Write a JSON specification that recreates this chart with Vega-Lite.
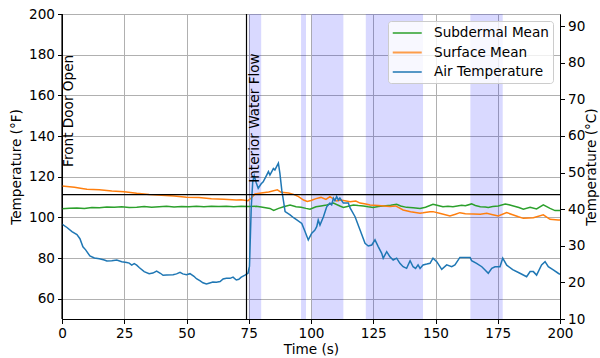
{
  "$schema": "https://vega.github.io/schema/vega-lite/v6.json",
  "width": 498,
  "height": 305,
  "autosize": {"type": "none"},
  "padding": {"left": 62, "top": 14, "right": 40, "bottom": 39},
  "config": {
    "font": "DejaVu Sans",
    "view": {"stroke": "black", "strokeWidth": 1},
    "axis": {
      "domainColor": "black", "domainWidth": 1, "tickColor": "black", "tickWidth": 1, "tickSize": 4.5,
      "labelColor": "black", "titleColor": "black", "labelFont": "DejaVu Sans", "titleFont": "DejaVu Sans",
      "labelFontSize": 13.6, "titleFontSize": 13.6, "titleFontWeight": "normal",
      "gridColor": "#b0b0b0", "gridWidth": 1, "labelPadding": 3
    }
  },
  "datasets": {
    "bands": [
      {"a": 75, "b": 80}, {"a": 96, "b": 98}, {"a": 100.3, "b": 113}, {"a": 122, "b": 145}, {"a": 164, "b": 177}
    ],
    "vlines": [{"t": 0}, {"t": 74.1}],
    "labels": [
      {"t": 0.2, "F": 124.8, "label": "Front Door Open"},
      {"t": 74.5, "F": 117, "label": "Interior Water Flow"}
    ],
    "hline": [{"C": 44}],
    "series": [
      {"s": "Subdermal Mean", "t": 0, "F": 104.2}, {"s": "Subdermal Mean", "t": 3, "F": 104.5}, {"s": "Subdermal Mean", "t": 6, "F": 104.6}, {"s": "Subdermal Mean", "t": 9, "F": 104.3}, {"s": "Subdermal Mean", "t": 12, "F": 104.8}, {"s": "Subdermal Mean", "t": 15, "F": 104.7}, {"s": "Subdermal Mean", "t": 18, "F": 105.1}, {"s": "Subdermal Mean", "t": 21, "F": 104.9}, {"s": "Subdermal Mean", "t": 24, "F": 105.2}, {"s": "Subdermal Mean", "t": 27, "F": 104.8}, {"s": "Subdermal Mean", "t": 30, "F": 105.0}, {"s": "Subdermal Mean", "t": 33, "F": 105.3}, {"s": "Subdermal Mean", "t": 36, "F": 105.0}, {"s": "Subdermal Mean", "t": 39, "F": 105.2}, {"s": "Subdermal Mean", "t": 42, "F": 105.4}, {"s": "Subdermal Mean", "t": 45, "F": 105.1}, {"s": "Subdermal Mean", "t": 48, "F": 105.3}, {"s": "Subdermal Mean", "t": 51, "F": 105.2}, {"s": "Subdermal Mean", "t": 54, "F": 105.5}, {"s": "Subdermal Mean", "t": 57, "F": 105.2}, {"s": "Subdermal Mean", "t": 60, "F": 105.4}, {"s": "Subdermal Mean", "t": 63, "F": 105.3}, {"s": "Subdermal Mean", "t": 66, "F": 105.5}, {"s": "Subdermal Mean", "t": 69, "F": 105.2}, {"s": "Subdermal Mean", "t": 72, "F": 105.4}, {"s": "Subdermal Mean", "t": 75, "F": 105.3}, {"s": "Subdermal Mean", "t": 78, "F": 105.4}, {"s": "Subdermal Mean", "t": 80, "F": 105.1}, {"s": "Subdermal Mean", "t": 83.5, "F": 104.4}, {"s": "Subdermal Mean", "t": 85, "F": 103.4}, {"s": "Subdermal Mean", "t": 87, "F": 104.4}, {"s": "Subdermal Mean", "t": 89, "F": 105.2}, {"s": "Subdermal Mean", "t": 91.6, "F": 106.1}, {"s": "Subdermal Mean", "t": 94, "F": 105.2}, {"s": "Subdermal Mean", "t": 96, "F": 105.0}, {"s": "Subdermal Mean", "t": 98, "F": 104.4}, {"s": "Subdermal Mean", "t": 99.6, "F": 104.0}, {"s": "Subdermal Mean", "t": 102, "F": 105.2}, {"s": "Subdermal Mean", "t": 104, "F": 105.6}, {"s": "Subdermal Mean", "t": 106.3, "F": 106.1}, {"s": "Subdermal Mean", "t": 109, "F": 107.0}, {"s": "Subdermal Mean", "t": 111.6, "F": 105.6}, {"s": "Subdermal Mean", "t": 113, "F": 104.9}, {"s": "Subdermal Mean", "t": 115, "F": 105.5}, {"s": "Subdermal Mean", "t": 117, "F": 106.1}, {"s": "Subdermal Mean", "t": 119, "F": 105.8}, {"s": "Subdermal Mean", "t": 121, "F": 105.6}, {"s": "Subdermal Mean", "t": 123, "F": 105.2}, {"s": "Subdermal Mean", "t": 125, "F": 104.9}, {"s": "Subdermal Mean", "t": 127, "F": 105.3}, {"s": "Subdermal Mean", "t": 129, "F": 105.6}, {"s": "Subdermal Mean", "t": 132, "F": 106.0}, {"s": "Subdermal Mean", "t": 134.4, "F": 106.4}, {"s": "Subdermal Mean", "t": 136, "F": 105.6}, {"s": "Subdermal Mean", "t": 138.4, "F": 104.9}, {"s": "Subdermal Mean", "t": 141, "F": 104.7}, {"s": "Subdermal Mean", "t": 143.8, "F": 104.4}, {"s": "Subdermal Mean", "t": 146, "F": 105.0}, {"s": "Subdermal Mean", "t": 149, "F": 106.4}, {"s": "Subdermal Mean", "t": 151, "F": 105.8}, {"s": "Subdermal Mean", "t": 153, "F": 105.2}, {"s": "Subdermal Mean", "t": 155, "F": 105.4}, {"s": "Subdermal Mean", "t": 157, "F": 105.2}, {"s": "Subdermal Mean", "t": 160.5, "F": 105.9}, {"s": "Subdermal Mean", "t": 162, "F": 105.7}, {"s": "Subdermal Mean", "t": 164.5, "F": 106.6}, {"s": "Subdermal Mean", "t": 166, "F": 105.8}, {"s": "Subdermal Mean", "t": 168, "F": 105.2}, {"s": "Subdermal Mean", "t": 170, "F": 105.1}, {"s": "Subdermal Mean", "t": 171.2, "F": 104.9}, {"s": "Subdermal Mean", "t": 173, "F": 105.3}, {"s": "Subdermal Mean", "t": 175.2, "F": 105.6}, {"s": "Subdermal Mean", "t": 178, "F": 106.6}, {"s": "Subdermal Mean", "t": 179.5, "F": 106.2}, {"s": "Subdermal Mean", "t": 181.3, "F": 105.6}, {"s": "Subdermal Mean", "t": 183.5, "F": 104.8}, {"s": "Subdermal Mean", "t": 185.3, "F": 104.0}, {"s": "Subdermal Mean", "t": 188, "F": 104.9}, {"s": "Subdermal Mean", "t": 190.6, "F": 104.1}, {"s": "Subdermal Mean", "t": 193.3, "F": 106.1}, {"s": "Subdermal Mean", "t": 196, "F": 104.4}, {"s": "Subdermal Mean", "t": 198, "F": 103.3}, {"s": "Subdermal Mean", "t": 200, "F": 103.3},

      {"s": "Surface Mean", "t": 0, "F": 115.4}, {"s": "Surface Mean", "t": 2, "F": 115.2}, {"s": "Surface Mean", "t": 5, "F": 114.8}, {"s": "Surface Mean", "t": 8, "F": 114.2}, {"s": "Surface Mean", "t": 10, "F": 113.8}, {"s": "Surface Mean", "t": 15, "F": 113.6}, {"s": "Surface Mean", "t": 20, "F": 113.0}, {"s": "Surface Mean", "t": 25, "F": 112.6}, {"s": "Surface Mean", "t": 30, "F": 111.8}, {"s": "Surface Mean", "t": 35, "F": 111.2}, {"s": "Surface Mean", "t": 40, "F": 110.9}, {"s": "Surface Mean", "t": 45, "F": 110.5}, {"s": "Surface Mean", "t": 50, "F": 109.9}, {"s": "Surface Mean", "t": 55, "F": 109.7}, {"s": "Surface Mean", "t": 60, "F": 109.2}, {"s": "Surface Mean", "t": 65, "F": 108.9}, {"s": "Surface Mean", "t": 70, "F": 108.5}, {"s": "Surface Mean", "t": 72, "F": 108.7}, {"s": "Surface Mean", "t": 74.7, "F": 108.2}, {"s": "Surface Mean", "t": 76, "F": 109.5}, {"s": "Surface Mean", "t": 77.5, "F": 111.5}, {"s": "Surface Mean", "t": 80, "F": 112.0}, {"s": "Surface Mean", "t": 83, "F": 112.5}, {"s": "Surface Mean", "t": 86.5, "F": 113.5}, {"s": "Surface Mean", "t": 88, "F": 112.3}, {"s": "Surface Mean", "t": 91, "F": 112.0}, {"s": "Surface Mean", "t": 93, "F": 111.3}, {"s": "Surface Mean", "t": 95, "F": 110.2}, {"s": "Surface Mean", "t": 97, "F": 108.5}, {"s": "Surface Mean", "t": 98.5, "F": 107.8}, {"s": "Surface Mean", "t": 100, "F": 108.3}, {"s": "Surface Mean", "t": 102, "F": 109.2}, {"s": "Surface Mean", "t": 104, "F": 109.8}, {"s": "Surface Mean", "t": 106, "F": 108.8}, {"s": "Surface Mean", "t": 107.6, "F": 110.2}, {"s": "Surface Mean", "t": 110.3, "F": 108.0}, {"s": "Surface Mean", "t": 112, "F": 108.5}, {"s": "Surface Mean", "t": 115.7, "F": 107.7}, {"s": "Surface Mean", "t": 118, "F": 108.0}, {"s": "Surface Mean", "t": 119.7, "F": 107.0}, {"s": "Surface Mean", "t": 122, "F": 106.6}, {"s": "Surface Mean", "t": 123.7, "F": 106.1}, {"s": "Surface Mean", "t": 127, "F": 105.8}, {"s": "Surface Mean", "t": 131.7, "F": 105.3}, {"s": "Surface Mean", "t": 134, "F": 105.6}, {"s": "Surface Mean", "t": 137, "F": 103.6}, {"s": "Surface Mean", "t": 140, "F": 102.8}, {"s": "Surface Mean", "t": 143.8, "F": 102.0}, {"s": "Surface Mean", "t": 145, "F": 102.2}, {"s": "Surface Mean", "t": 147.8, "F": 102.8}, {"s": "Surface Mean", "t": 149, "F": 102.8}, {"s": "Surface Mean", "t": 152, "F": 101.9}, {"s": "Surface Mean", "t": 155.8, "F": 100.7}, {"s": "Surface Mean", "t": 158, "F": 101.5}, {"s": "Surface Mean", "t": 159.8, "F": 102.3}, {"s": "Surface Mean", "t": 162, "F": 101.8}, {"s": "Surface Mean", "t": 165.2, "F": 101.7}, {"s": "Surface Mean", "t": 168, "F": 101.5}, {"s": "Surface Mean", "t": 170.6, "F": 102.0}, {"s": "Surface Mean", "t": 173, "F": 101.3}, {"s": "Surface Mean", "t": 175.2, "F": 100.7}, {"s": "Surface Mean", "t": 178.6, "F": 102.3}, {"s": "Surface Mean", "t": 181, "F": 101.3}, {"s": "Surface Mean", "t": 183.3, "F": 100.3}, {"s": "Surface Mean", "t": 185.3, "F": 99.5}, {"s": "Surface Mean", "t": 189.3, "F": 99.8}, {"s": "Surface Mean", "t": 193.3, "F": 101.2}, {"s": "Surface Mean", "t": 196, "F": 99.0}, {"s": "Surface Mean", "t": 199.3, "F": 98.7}, {"s": "Surface Mean", "t": 200, "F": 98.7},

      {"s": "Air Temperature", "t": 0, "F": 96.7}, {"s": "Air Temperature", "t": 2, "F": 95.0}, {"s": "Air Temperature", "t": 4, "F": 93.0}, {"s": "Air Temperature", "t": 6, "F": 91.5}, {"s": "Air Temperature", "t": 7.2, "F": 89.5}, {"s": "Air Temperature", "t": 8.4, "F": 85.5}, {"s": "Air Temperature", "t": 9.5, "F": 84.0}, {"s": "Air Temperature", "t": 11.2, "F": 81.0}, {"s": "Air Temperature", "t": 13, "F": 80.0}, {"s": "Air Temperature", "t": 15, "F": 79.6}, {"s": "Air Temperature", "t": 17, "F": 79.0}, {"s": "Air Temperature", "t": 18, "F": 78.5}, {"s": "Air Temperature", "t": 20, "F": 78.6}, {"s": "Air Temperature", "t": 22, "F": 79.0}, {"s": "Air Temperature", "t": 24, "F": 78.2}, {"s": "Air Temperature", "t": 26, "F": 77.8}, {"s": "Air Temperature", "t": 27, "F": 77.5}, {"s": "Air Temperature", "t": 28, "F": 76.5}, {"s": "Air Temperature", "t": 29, "F": 77.2}, {"s": "Air Temperature", "t": 30, "F": 76.5}, {"s": "Air Temperature", "t": 31, "F": 75.3}, {"s": "Air Temperature", "t": 33, "F": 73.3}, {"s": "Air Temperature", "t": 35, "F": 72.3}, {"s": "Air Temperature", "t": 36.5, "F": 72.6}, {"s": "Air Temperature", "t": 38, "F": 73.6}, {"s": "Air Temperature", "t": 39.5, "F": 72.5}, {"s": "Air Temperature", "t": 40.6, "F": 71.5}, {"s": "Air Temperature", "t": 42, "F": 71.6}, {"s": "Air Temperature", "t": 44.6, "F": 71.8}, {"s": "Air Temperature", "t": 46, "F": 72.2}, {"s": "Air Temperature", "t": 47.4, "F": 73.0}, {"s": "Air Temperature", "t": 48.5, "F": 72.2}, {"s": "Air Temperature", "t": 50, "F": 71.8}, {"s": "Air Temperature", "t": 51.4, "F": 72.3}, {"s": "Air Temperature", "t": 53, "F": 71.0}, {"s": "Air Temperature", "t": 54, "F": 69.8}, {"s": "Air Temperature", "t": 55.5, "F": 68.8}, {"s": "Air Temperature", "t": 56.6, "F": 67.8}, {"s": "Air Temperature", "t": 58, "F": 67.2}, {"s": "Air Temperature", "t": 59, "F": 67.6}, {"s": "Air Temperature", "t": 60.6, "F": 68.2}, {"s": "Air Temperature", "t": 62, "F": 68.1}, {"s": "Air Temperature", "t": 63.5, "F": 68.4}, {"s": "Air Temperature", "t": 64.7, "F": 69.7}, {"s": "Air Temperature", "t": 66, "F": 70.0}, {"s": "Air Temperature", "t": 67.5, "F": 70.0}, {"s": "Air Temperature", "t": 68.7, "F": 70.6}, {"s": "Air Temperature", "t": 70, "F": 69.2}, {"s": "Air Temperature", "t": 71, "F": 69.5}, {"s": "Air Temperature", "t": 72, "F": 70.6}, {"s": "Air Temperature", "t": 73.5, "F": 71.6}, {"s": "Air Temperature", "t": 74.7, "F": 72.5}, {"s": "Air Temperature", "t": 75.3, "F": 76.0}, {"s": "Air Temperature", "t": 76, "F": 105.0}, {"s": "Air Temperature", "t": 76.6, "F": 117.5}, {"s": "Air Temperature", "t": 77.2, "F": 120.5}, {"s": "Air Temperature", "t": 78, "F": 117.0}, {"s": "Air Temperature", "t": 78.8, "F": 114.3}, {"s": "Air Temperature", "t": 80, "F": 116.5}, {"s": "Air Temperature", "t": 80.8, "F": 117.5}, {"s": "Air Temperature", "t": 82.2, "F": 120.8}, {"s": "Air Temperature", "t": 82.9, "F": 122.5}, {"s": "Air Temperature", "t": 83.5, "F": 120.8}, {"s": "Air Temperature", "t": 84.9, "F": 124.0}, {"s": "Air Temperature", "t": 85.5, "F": 123.3}, {"s": "Air Temperature", "t": 86.9, "F": 126.6}, {"s": "Air Temperature", "t": 87.5, "F": 121.7}, {"s": "Air Temperature", "t": 88.3, "F": 113.0}, {"s": "Air Temperature", "t": 88.9, "F": 108.5}, {"s": "Air Temperature", "t": 89.6, "F": 102.8}, {"s": "Air Temperature", "t": 91.6, "F": 101.2}, {"s": "Air Temperature", "t": 93, "F": 99.8}, {"s": "Air Temperature", "t": 94.3, "F": 98.7}, {"s": "Air Temperature", "t": 96.3, "F": 97.0}, {"s": "Air Temperature", "t": 97.6, "F": 93.0}, {"s": "Air Temperature", "t": 98.9, "F": 88.9}, {"s": "Air Temperature", "t": 100.3, "F": 92.2}, {"s": "Air Temperature", "t": 101.5, "F": 93.6}, {"s": "Air Temperature", "t": 102.3, "F": 95.4}, {"s": "Air Temperature", "t": 102.9, "F": 98.7}, {"s": "Air Temperature", "t": 103.6, "F": 96.2}, {"s": "Air Temperature", "t": 105, "F": 100.3}, {"s": "Air Temperature", "t": 106.3, "F": 105.2}, {"s": "Air Temperature", "t": 107.6, "F": 107.0}, {"s": "Air Temperature", "t": 108.3, "F": 106.2}, {"s": "Air Temperature", "t": 109, "F": 109.4}, {"s": "Air Temperature", "t": 109.6, "F": 108.2}, {"s": "Air Temperature", "t": 110.3, "F": 110.2}, {"s": "Air Temperature", "t": 111, "F": 108.5}, {"s": "Air Temperature", "t": 111.6, "F": 109.5}, {"s": "Air Temperature", "t": 113, "F": 107.0}, {"s": "Air Temperature", "t": 115, "F": 107.0}, {"s": "Air Temperature", "t": 115.7, "F": 104.6}, {"s": "Air Temperature", "t": 117.7, "F": 100.3}, {"s": "Air Temperature", "t": 119.7, "F": 93.8}, {"s": "Air Temperature", "t": 121.7, "F": 87.2}, {"s": "Air Temperature", "t": 123, "F": 85.9}, {"s": "Air Temperature", "t": 124.4, "F": 86.4}, {"s": "Air Temperature", "t": 125.7, "F": 88.9}, {"s": "Air Temperature", "t": 127, "F": 85.6}, {"s": "Air Temperature", "t": 128.4, "F": 82.3}, {"s": "Air Temperature", "t": 129, "F": 79.9}, {"s": "Air Temperature", "t": 130.4, "F": 83.1}, {"s": "Air Temperature", "t": 131.7, "F": 80.6}, {"s": "Air Temperature", "t": 133, "F": 79.0}, {"s": "Air Temperature", "t": 134.4, "F": 79.9}, {"s": "Air Temperature", "t": 135.7, "F": 77.4}, {"s": "Air Temperature", "t": 137, "F": 75.7}, {"s": "Air Temperature", "t": 138.4, "F": 74.9}, {"s": "Air Temperature", "t": 139.8, "F": 78.7}, {"s": "Air Temperature", "t": 141, "F": 75.7}, {"s": "Air Temperature", "t": 142, "F": 74.9}, {"s": "Air Temperature", "t": 143, "F": 76.6}, {"s": "Air Temperature", "t": 143.8, "F": 74.9}, {"s": "Air Temperature", "t": 145, "F": 76.6}, {"s": "Air Temperature", "t": 146.5, "F": 77.0}, {"s": "Air Temperature", "t": 147.8, "F": 77.4}, {"s": "Air Temperature", "t": 149, "F": 79.9}, {"s": "Air Temperature", "t": 150.5, "F": 78.2}, {"s": "Air Temperature", "t": 152.5, "F": 74.4}, {"s": "Air Temperature", "t": 154.5, "F": 76.6}, {"s": "Air Temperature", "t": 156.5, "F": 75.7}, {"s": "Air Temperature", "t": 157.8, "F": 76.6}, {"s": "Air Temperature", "t": 159.8, "F": 80.3}, {"s": "Air Temperature", "t": 163.9, "F": 80.3}, {"s": "Air Temperature", "t": 164.5, "F": 78.7}, {"s": "Air Temperature", "t": 166.5, "F": 77.4}, {"s": "Air Temperature", "t": 168.6, "F": 75.7}, {"s": "Air Temperature", "t": 169.9, "F": 74.1}, {"s": "Air Temperature", "t": 171.2, "F": 72.5}, {"s": "Air Temperature", "t": 172.6, "F": 74.9}, {"s": "Air Temperature", "t": 173.9, "F": 75.7}, {"s": "Air Temperature", "t": 175.9, "F": 75.7}, {"s": "Air Temperature", "t": 177, "F": 79.9}, {"s": "Air Temperature", "t": 178.6, "F": 76.5}, {"s": "Air Temperature", "t": 181, "F": 74.3}, {"s": "Air Temperature", "t": 183.9, "F": 72.5}, {"s": "Air Temperature", "t": 186.6, "F": 70.8}, {"s": "Air Temperature", "t": 188, "F": 73.3}, {"s": "Air Temperature", "t": 189.3, "F": 73.3}, {"s": "Air Temperature", "t": 190.6, "F": 71.6}, {"s": "Air Temperature", "t": 192.6, "F": 76.6}, {"s": "Air Temperature", "t": 194, "F": 78.2}, {"s": "Air Temperature", "t": 195.3, "F": 75.7}, {"s": "Air Temperature", "t": 197.3, "F": 74.1}, {"s": "Air Temperature", "t": 199.3, "F": 72.5}, {"s": "Air Temperature", "t": 200, "F": 72.0}
    ]
  },
  "layer": [
    {
      "layer": [
        {
          "data": {"name": "bands"},
          "mark": {"type": "rect", "color": "#0000ff", "opacity": 0.15},
          "encoding": {
            "x": {"field": "a", "type": "quantitative", "scale": {"domain": [0, 200], "nice": false, "zero": false}},
            "x2": {"field": "b"}
          }
        },
        {
          "data": {"name": "series"},
          "mark": {"type": "line", "strokeWidth": 1.5, "clip": true},
          "encoding": {
            "x": {"field": "t", "type": "quantitative", "scale": {"domain": [0, 200], "nice": false, "zero": false},
                  "axis": {"title": "Time (s)", "values": [0, 25, 50, 75, 100, 125, 150, 175, 200], "grid": true, "labelFlush": false, "titlePadding": 2}},
            "y": {"field": "F", "type": "quantitative", "scale": {"domain": [50, 200], "nice": false, "zero": false},
                  "axis": {"title": "Temperature (°F)", "values": [60, 80, 100, 120, 140, 160, 180, 200], "grid": true, "titlePadding": 5}},
            "color": {
              "field": "s", "type": "nominal",
              "scale": {"domain": ["Subdermal Mean", "Surface Mean", "Air Temperature"], "range": ["#2ca02c", "#ff7f0e", "#1f77b4"]},
              "legend": {
                "orient": "top-right", "offset": 7, "title": null, "symbolType": "M-1,0H3", "symbolSize": 210,
                "symbolStrokeWidth": 2, "symbolOpacity": 0.75, "labelFontSize": 13.6, "labelFont": "DejaVu Sans", "labelColor": "black",
                "fillColor": "rgba(255,255,255,0.8)", "strokeColor": "#cccccc", "cornerRadius": 3, "padding": 3.5,
                "labelOffset": 25.5, "rowPadding": 3.5
              }
            },
            "detail": {"field": "s"}
          }
        },
        {
          "data": {"name": "vlines"},
          "mark": {"type": "rule", "color": "black", "strokeWidth": 1.2},
          "encoding": {"x": {"field": "t", "type": "quantitative"}}
        },
        {
          "data": {"name": "labels"},
          "mark": {"type": "text", "angle": 270, "align": "left", "baseline": "top", "fontSize": 13.6, "font": "DejaVu Sans", "color": "black"},
          "encoding": {
            "x": {"field": "t", "type": "quantitative"},
            "y": {"field": "F", "type": "quantitative"},
            "text": {"field": "label"}
          }
        }
      ]
    },
    {
      "data": {"name": "hline"},
      "mark": {"type": "rule", "color": "black", "strokeWidth": 1.2},
      "encoding": {
        "y": {"field": "C", "type": "quantitative", "scale": {"domain": [10, 93.333], "nice": false, "zero": false},
              "axis": {"orient": "right", "title": "Temperature (°C)", "values": [10, 20, 30, 40, 50, 60, 70, 80, 90], "grid": false, "titleAngle": 270, "titleBaseline": "top", "titlePadding": 0}}
      }
    }
  ],
  "resolve": {"scale": {"y": "independent"}}
}
